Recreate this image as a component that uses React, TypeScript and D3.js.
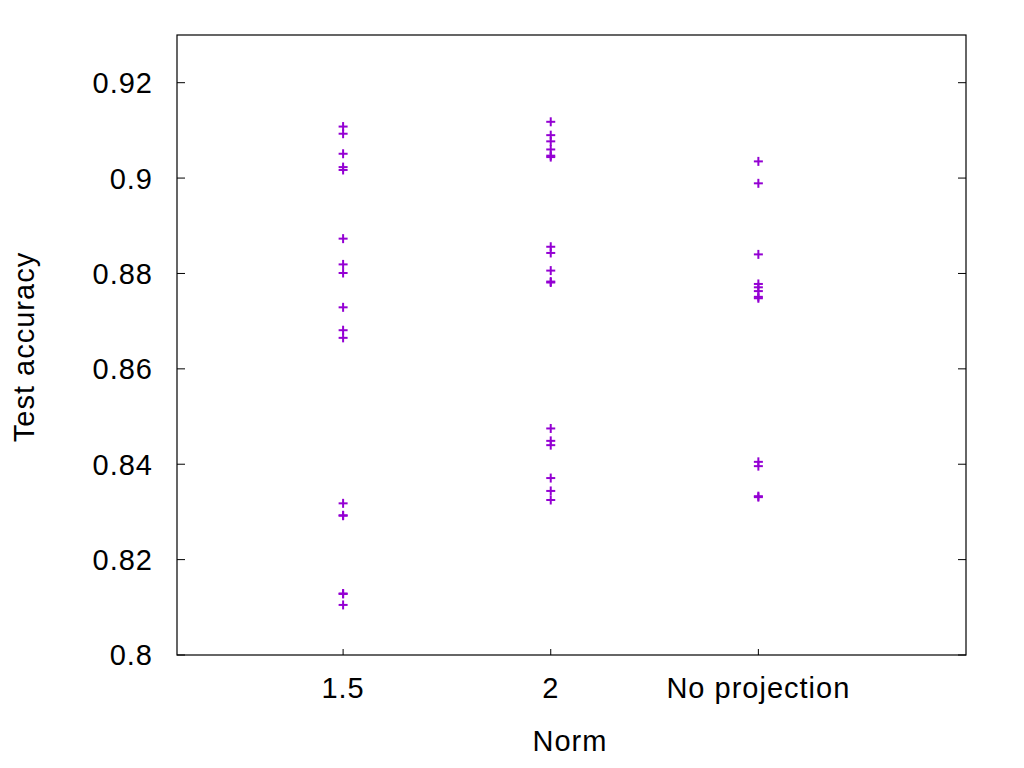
import React from 'react';
import * as d3 from 'd3';

// categories and their x positions on the numeric axis (gnuplot style)
const categories = ['1.5', '2', 'No projection'];
const catPos = [1, 2, 3];

const accNorm15 = [0.9108, 0.9093, 0.9051, 0.9023, 0.9017, 0.8873, 0.8819, 0.8801, 0.8729, 0.8681, 0.8665, 0.8318, 0.8293, 0.8292, 0.8129, 0.8128, 0.8105];
const accNorm2 = [0.9118, 0.909, 0.9077, 0.906, 0.9047, 0.9044, 0.8856, 0.8843, 0.8806, 0.8783, 0.8781, 0.8475, 0.8449, 0.844, 0.8371, 0.8344, 0.8325];
const accNoProj = [0.9035, 0.8989, 0.884, 0.8778, 0.8771, 0.8763, 0.8751, 0.8748, 0.8405, 0.8396, 0.8333, 0.8331];

const yTicks = [0.8, 0.82, 0.84, 0.86, 0.88, 0.9, 0.92];

const W = 1024, H = 768;
const margin = {top: 35, right: 58, bottom: 113, left: 177};
const font = '"Liberation Sans", Arial, Helvetica, sans-serif';
const color = '#9400d3';
const textStyle = {letterSpacing: '1px'};

export default function App() {
  const innerW = W - margin.left - margin.right;
  const innerH = H - margin.top - margin.bottom;

  const x = d3.scaleLinear().domain([0.2, 4]).range([0, innerW]);
  const y = d3.scaleLinear().domain([0.8, 0.93]).range([innerH, 0]);

  const series = [accNorm15, accNorm2, accNoProj];
  const points = series.flatMap((vals, i) => vals.map(v => ({cx: x(catPos[i]), cy: y(v)})));

  return (
    <svg width={W} height={H} style={{position: 'absolute', left: 0, top: 0, background: '#fff'}}>
      <g transform={`translate(${margin.left},${margin.top})`}>
        {yTicks.map(t => (
          <g key={t}>
            <line x1={0} x2={8} y1={y(t)} y2={y(t)} stroke="#000" strokeWidth={1} />
            <line x1={innerW - 8} x2={innerW} y1={y(t)} y2={y(t)} stroke="#000" strokeWidth={1} />
            <text x={-24} y={y(t)} dy="0.36em" textAnchor="end" fontFamily={font} fontSize={29} fill="#000" style={textStyle}>
              {d3.format('')(t)}
            </text>
          </g>
        ))}
        {categories.map((c, i) => (
          <g key={c}>
            <line x1={x(catPos[i])} x2={x(catPos[i])} y1={innerH} y2={innerH - 6} stroke="#000" strokeWidth={1} />
            <text x={x(catPos[i])} y={innerH + 43} textAnchor="middle" fontFamily={font} fontSize={29} fill="#000" style={textStyle}>
              {c}
            </text>
          </g>
        ))}
        <rect x={0} y={0} width={innerW} height={innerH} fill="none" stroke="#000" strokeWidth={1.2} />
        {points.map((p, i) => (
          <g key={i} stroke={color} strokeWidth={2}>
            <line x1={p.cx - 4.5} x2={p.cx + 4.5} y1={p.cy} y2={p.cy} />
            <line x1={p.cx} x2={p.cx} y1={p.cy - 4.5} y2={p.cy + 4.5} />
          </g>
        ))}
      </g>
      <text transform={`translate(34,347) rotate(-90)`} textAnchor="middle" fontFamily={font} fontSize={29} fill="#000" style={textStyle}>
        Test accuracy
      </text>
      <text x={570} y={751} textAnchor="middle" fontFamily={font} fontSize={29} fill="#000" style={textStyle}>
        Norm
      </text>
    </svg>
  );
}
